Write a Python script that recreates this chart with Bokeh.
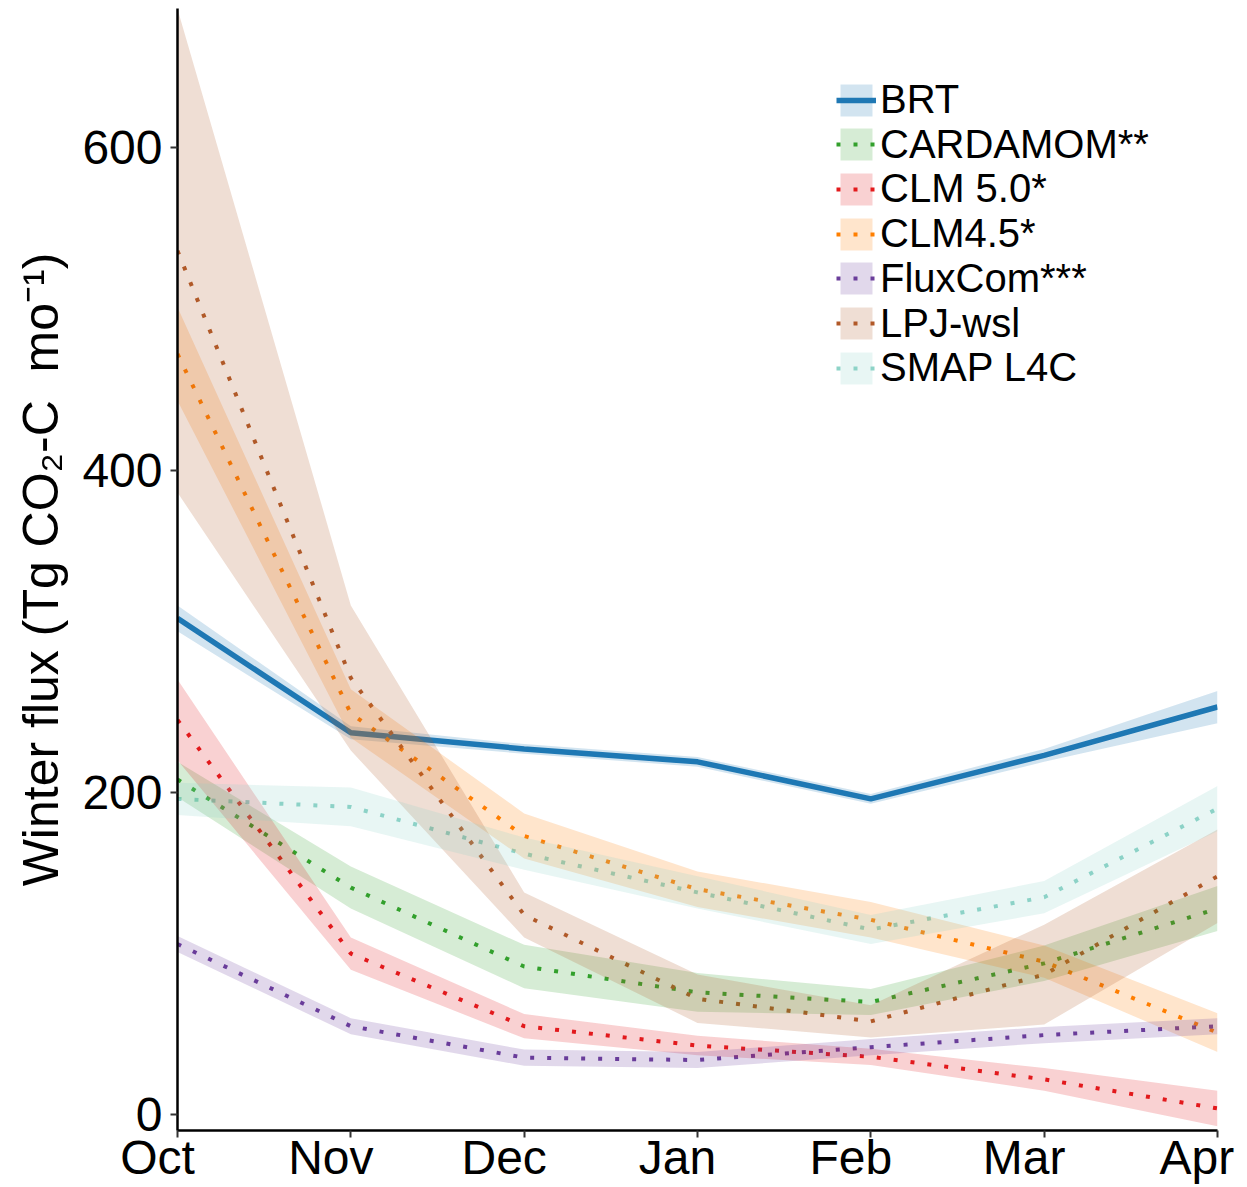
from bokeh.plotting import figure
from bokeh.models import Range1d, FixedTicker, Legend, LegendItem
from bokeh.embed import file_html
from bokeh.resources import INLINE

# ---- data ----
months = ["Oct", "Nov", "Dec", "Jan", "Feb", "Mar", "Apr"]

brt = [308, 237, 227, 219, 196, 223, 253]
brt_unc = [8, 4, 3, 3, 3, 4, 10]

cardamom = [208, 141, 92, 76, 70, 94, 128]
cardamom_unc = [11, 13, 13.5, 12, 8, 11, 14]

clm50 = [245, 100, 55, 43, 36, 22, 4]
clm50_unc = [25, 10, 7.5, 6, 5, 7, 11]

clm45 = [472, 249, 173, 140, 121, 95, 51]
clm45_unc = [29, 15, 14, 11, 11, 10, 12]

fluxcom = [106, 55, 35.5, 34, 42, 49.5, 55]
fluxcom_unc = [5, 5, 5, 5, 5, 5, 5]

lpj = [536, 271, 124, 72, 58, 87, 148]
lpj_unc = [150, 45, 14, 15, 10, 31, 29]

smap = [196, 191, 162, 138, 115, 135, 190]
smap_unc = [10, 12, 10, 10, 9, 10, 14]

names = ["BRT", "CARDAMOM**", "CLM 5.0*", "CLM4.5*", "FluxCom***", "LPJ-wsl", "SMAP L4C"]
values = [brt, cardamom, clm50, clm45, fluxcom, lpj, smap]
uncs = [brt_unc, cardamom_unc, clm50_unc, clm45_unc, fluxcom_unc, lpj_unc, smap_unc]
colors = ["#1f78b4", "#33a02c", "#e31a1c", "#ff7f00", "#6a3d9a", "#b15928", "#8dd3c7"]

FONT = "Liberation Sans"

p = figure(width=1247, height=1187,
           x_range=Range1d(0, len(months) - 1), y_range=Range1d(-9.7, 686.3),
           output_backend="svg", toolbar_location=None,
           min_border_left=177, min_border_right=30,
           min_border_top=8, min_border_bottom=57)
p.outline_line_color = None
p.xgrid.visible = False
p.ygrid.visible = False
p.background_fill_color = "white"

x = list(range(len(months)))

line_r = []
for name, vals, col in zip(names, values, colors):
    if name == "BRT":
        r = p.line(x, vals, line_color=col, line_width=5.5)
    else:
        r = p.line(x, vals, line_color=col, line_width=4, line_dash="4 13", line_cap="butt")
    line_r.append(r)

band_r = []
for vals, unc, col in zip(values, uncs, colors):
    lo = [v - u for v, u in zip(vals, unc)]
    hi = [v + u for v, u in zip(vals, unc)]
    b = p.varea(x=x, y1=lo, y2=hi, fill_color=col, fill_alpha=0.2)
    band_r.append(b)

# axes (month labels sit a little left of their ticks, as in the reference)
NBSP = "\u00a0"
pad = [3, 3, 3, 3, 3, 3, 1]
p.xaxis.ticker = FixedTicker(ticks=x)
p.xaxis.major_label_overrides = {i: m + NBSP * k for i, (m, k) in enumerate(zip(months, pad))}
p.xaxis.major_label_standoff = -7
p.yaxis.ticker = FixedTicker(ticks=[0, 200, 400, 600])
for ax in (p.xaxis, p.yaxis):
    ax.axis_line_color = "black"
    ax.axis_line_width = 2.5
    ax.major_tick_line_color = "#333333"
    ax.major_tick_line_width = 2
    ax.major_tick_out = 7
    ax.major_tick_in = 0
    ax.minor_tick_line_color = None
    ax.major_label_text_font = FONT
    ax.major_label_text_font_size = "48px"
    ax.major_label_text_color = "black"
p.yaxis.major_label_standoff = 8
p.yaxis.axis_label = "Winter flux (Tg CO\u2082-C\u00a0 mo\u207b\u00b9)"
p.yaxis.axis_label_text_font = FONT
p.yaxis.axis_label_text_font_size = "50px"
p.yaxis.axis_label_text_font_style = "normal"
p.yaxis.axis_label_text_color = "black"
p.yaxis.axis_label_standoff = 10

# legend: one entry per legend box, stacked
for k, (n, b, r) in enumerate(zip(names, band_r, line_r)):
    lg = Legend(items=[LegendItem(label=n, renderers=[b, r])],
                location=(659, 1008 - 44.7 * k),
                border_line_color=None, background_fill_alpha=0,
                padding=0, margin=0, spacing=0,
                glyph_width=40, glyph_height=40, label_standoff=4,
                label_text_font=FONT, label_text_font_size="40px",
                label_text_color="black")
    p.add_layout(lg)

open("out.html", "w").write(file_html(p, INLINE))
